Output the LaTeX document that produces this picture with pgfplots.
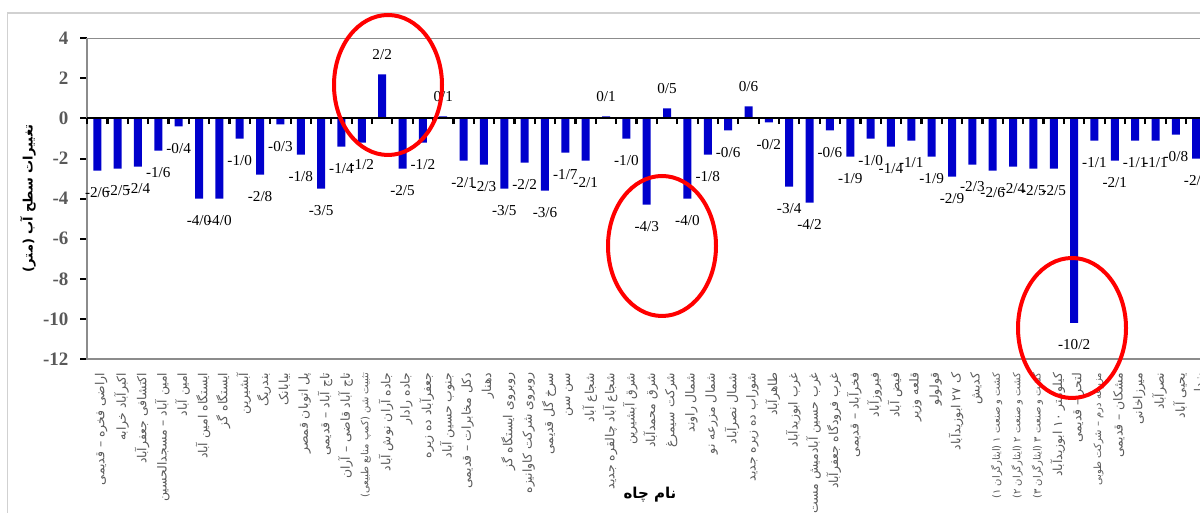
\documentclass[border=0pt]{standalone}
\usepackage{fontspec}
\setmainfont{Liberation Serif}
\newfontfamily\arabicfont[Script=Arabic]{DejaVu Sans}
\TeXXeTstate=1
\usepackage{pgfplots}
\pgfplotsset{compat=1.18}
\definecolor{barblue}{RGB}{0,0,204}
\definecolor{tickgray}{RGB}{89,89,89}
\newcommand{\sm}{\fontsize{5}{5}\selectfont}
\begin{document}
\begin{tikzpicture}[x=0.5pt,y=0.5pt]
\path[use as bounding box] (0,0) rectangle (1200,513);
\draw[black!18, line width=0.8pt] (7.3,-20) rectangle (1300,499.7);
\begin{axis}[
  at={(43.55pt,77pt)}, anchor=south west,
  scale only axis, width=559.65pt, height=160.35pt,
  xmin=0.5, xmax=55.5, ymin=-12, ymax=4,
  axis line style={black!45, line width=0.6pt},
  ytick={-12,-10,...,4},
  yticklabels={-12,-10,-8,-6,-4,-2,0,2,4},
  ytick pos=left,
  ytick style={black, line width=1pt},
  tick align=outside,
  major tick length=3.3pt,
  yticklabel style={font=\fontsize{9.5}{9.5}\selectfont\bfseries, text=tickgray, xshift=-2.5pt},
  xtick={1,...,55},
  xtick style={draw=none},
  xticklabels={
{\beginR اراضی فخره – قدیمی\endR},
{\beginR اکبرآباد خرابه\endR},
{\beginR اکتشافی جعفرآباد\endR},
{\beginR امین آباد – مسجدالحسین\endR},
{\beginR امین آباد\endR},
{\beginR ایستگاه امین آباد\endR},
{\beginR ایستگاه گز\endR},
{\beginR آبشیرین\endR},
{\beginR بندریگ\endR},
{\beginR بیابانک\endR},
{\beginR پل اتوبان قمصر\endR},
{\beginR تاج آباد – قدیمی\endR},
{\beginR تاج آباد قاضی – آران\endR},
{\sm\beginR تثبیت شن (کمپ منابع طبیعی)\endR},
{\beginR جاده آران نوش آباد\endR},
{\beginR جاده رادار\endR},
{\beginR جعفرآباد ده زیره\endR},
{\beginR جنوب حسین آباد\endR},
{\beginR دکل مخابرات – قدیمی\endR},
{\beginR دهنار\endR},
{\beginR روبروی ایستگاه گز\endR},
{\beginR روبروی شرکت کاوانیزه\endR},
{\beginR سرخ گل قدیمی\endR},
{\beginR سن سن\endR},
{\beginR شجاع آباد\endR},
{\beginR شجاع آباد چالقره جدید\endR},
{\beginR شرق آبشیرین\endR},
{\beginR شرق محمدآباد\endR},
{\beginR شرکت سیمرغ\endR},
{\beginR شمال راوند\endR},
{\beginR شمال مزرعه نو\endR},
{\beginR شمال نصرآباد\endR},
{\beginR شوراب ده زیره جدید\endR},
{\beginR طاهرآباد\endR},
{\beginR غرب ابوزیدآباد\endR},
{\beginR غرب حسین آبادمیش مست\endR},
{\beginR غرب فرودگاه جعفرآباد\endR},
{\beginR فخرآباد – قدیمی\endR},
{\beginR فیروزآباد\endR},
{\beginR فیض آباد\endR},
{\beginR قلعه وزیر\endR},
{\beginR قولولو\endR},
{\beginR ک ۲۷ ابوزیدآباد\endR},
{\beginR کدیش\endR},
{\sm\beginR کشت و صنعت ۱ (ایثارگران ۱)\endR},
{\sm\beginR کشت و صنعت ۲ (ایثارگران ۲)\endR},
{\sm\beginR کشت و صنعت ۳ (ایثارگران ۳)\endR},
{\beginR کیلومتر ۱۰ ابوزیدآباد\endR},
{\beginR لتحر – قدیمی\endR},
{\sm\beginR مزرعه درم – شرکت طوبی\endR},
{\beginR مشکان – قدیمی\endR},
{\beginR میرزاخانی\endR},
{\beginR نصرآباد\endR},
{\beginR یحیی آباد\endR},
{\beginR یزدل\endR}},
  xticklabel style={font=\arabicfont\fontsize{6.2}{6.2}\selectfont, text=tickgray, rotate=90, anchor=east, yshift=-2pt},
  ybar, bar width=4pt,
  nodes near coords, point meta=explicit symbolic,
  visualization depends on={rawy \as \yval},
  every node near coord/.append style={font=\fontsize{7.6}{7.6}\selectfont, text=black, anchor=center, yshift={ifthenelse(\yval<0,-11,10)}},
  clip=false,
]
\addplot[fill=barblue, draw=none] table[x=x, y=y, meta=lab] {
x y lab
1 -2.6 -2/6
2 -2.5 -2/5
3 -2.4 -2/4
4 -1.6 -1/6
5 -0.4 -0/4
6 -4.0 -4/0
7 -4.0 -4/0
8 -1.0 -1/0
9 -2.8 -2/8
10 -0.3 -0/3
11 -1.8 -1/8
12 -3.5 -3/5
13 -1.4 -1/4
14 -1.2 -1/2
15 2.2 2/2
16 -2.5 -2/5
17 -1.2 -1/2
18 0.1 0/1
19 -2.1 -2/1
20 -2.3 -2/3
21 -3.5 -3/5
22 -2.2 -2/2
23 -3.6 -3/6
24 -1.7 -1/7
25 -2.1 -2/1
26 0.1 0/1
27 -1.0 -1/0
28 -4.3 -4/3
29 0.5 0/5
30 -4.0 -4/0
31 -1.8 -1/8
32 -0.6 -0/6
33 0.6 0/6
34 -0.2 -0/2
35 -3.4 -3/4
36 -4.2 -4/2
37 -0.6 -0/6
38 -1.9 -1/9
39 -1.0 -1/0
40 -1.4 -1/4
41 -1.1 -1/1
42 -1.9 -1/9
43 -2.9 -2/9
44 -2.3 -2/3
45 -2.6 -2/6
46 -2.4 -2/4
47 -2.5 -2/5
48 -2.5 -2/5
49 -10.2 -10/2
50 -1.1 -1/1
51 -2.1 -2/1
52 -1.1 -1/1
53 -1.1 -1/1
54 -0.8 -0/8
55 -2.0 -2/0
};
\end{axis}
% zero line with category tick marks below it
\begin{axis}[
  at={(43.55pt,197.25pt)}, anchor=north west,
  scale only axis, width=559.65pt, height=2.8pt,
  xmin=0.5, xmax=55.5, ymin=0, ymax=1,
  axis x line*=top, axis y line=none,
  axis line style={-, black, line width=1pt},
  xtick={0.5,1.5,...,55.5}, xticklabel=\empty,
  ytick=\empty,
  major tick length=0pt,
  xmajorgrids, grid style={black, line width=1.1pt},
]
\addplot[draw=none] coordinates {(1,0.5)};
\end{axis}
\draw[red, line width=2pt] (388,428) ellipse [x radius=27pt, y radius=35pt];
\draw[red, line width=2pt] (662,267) ellipse [x radius=27pt, y radius=35pt];
\draw[red, line width=2pt] (1072,185) ellipse [x radius=27pt, y radius=35pt];
\node[rotate=90, font=\arabicfont\bfseries\fontsize{6.5}{6.5}\selectfont] at (28,314.5) {\beginR تغییرات سطح آب (متر)\endR};
\node[font=\arabicfont\bfseries\fontsize{7.5}{7.5}\selectfont] at (650,18) {\beginR نام چاه\endR};
\end{tikzpicture}
\end{document}
